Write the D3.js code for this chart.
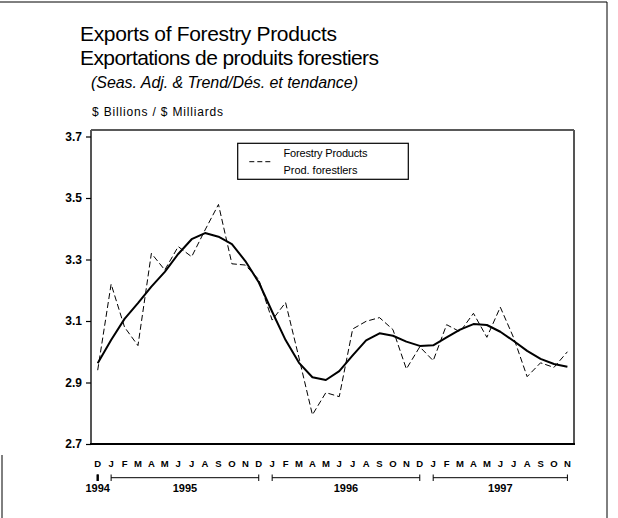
<!DOCTYPE html>
<html>
<head>
<meta charset="utf-8">
<script src="https://cdn.jsdelivr.net/npm/d3@7"></script>
<style>
html,body{margin:0;padding:0;background:#fff;}
svg{display:block;font-family:"Liberation Sans",Arial,sans-serif;}
</style>
</head>
<body>
<svg id="chart" width="618" height="518"></svg>
<script>
// ---- data ----
const monthLabels = ["D","J","F","M","A","M","J","J","A","S","O","N","D",
                     "J","F","M","A","M","J","J","A","S","O","N","D",
                     "J","F","M","A","M","J","J","A","S","O","N"];
const seasAdj = [2.94,3.22,3.08,3.02,3.32,3.266,3.342,3.309,3.396,3.479,3.286,3.282,
                 3.235,3.103,3.16,2.98,2.795,2.867,2.854,3.074,3.099,3.111,3.072,2.944,
                 3.016,2.971,3.088,3.065,3.125,3.047,3.145,3.045,2.919,2.964,2.949,3.0];
const trend = [2.963,3.038,3.107,3.158,3.212,3.26,3.318,3.366,3.386,3.374,3.35,3.295,
               3.226,3.13,3.038,2.964,2.917,2.908,2.937,2.988,3.037,3.06,3.052,3.033,
               3.019,3.021,3.047,3.072,3.09,3.087,3.065,3.035,3.003,2.977,2.96,2.951];
const yTicks = [2.7,2.9,3.1,3.3,3.5,3.7];
const yearLabels = ["1994","1995","1996","1997"];
const yearStart = [0,1,13,25];
const yearEnd = [0,12,24,35];
const titleLines = ["Exports of Forestry Products","Exportations de produits forestiers"];
const subtitle = "(Seas. Adj. & Trend/Dés. et tendance)";
const unitLabel = "$ Billions / $ Milliards";
const legendLines = ["Forestry Products","Prod. forestlers"];

// ---- layout ----
const svg = d3.select("#chart");
const plot = {left:91, right:574, top:130, bottom:444};
const x = d3.scaleLinear().domain([0, monthLabels.length-1]).range([97.7, 567.4]);
const y = d3.scaleLinear().domain([2.7, 3.7]).range([444, 136.5]);

// outer frame
svg.append("line").attr("x1",0).attr("x2",607).attr("y1",2).attr("y2",2).attr("stroke","#000").attr("stroke-width",1);
svg.append("line").attr("x1",607).attr("x2",607).attr("y1",2).attr("y2",518).attr("stroke","#000").attr("stroke-width",1);
svg.append("line").attr("x1",2).attr("x2",2).attr("y1",455).attr("y2",518).attr("stroke","#000").attr("stroke-width",1);

// titles
svg.append("text").attr("x",80).attr("y",41).attr("font-size",21)
  .attr("textLength",257).attr("lengthAdjust","spacing").text(titleLines[0]);
svg.append("text").attr("x",80).attr("y",64.5).attr("font-size",21)
  .attr("textLength",299).attr("lengthAdjust","spacing").text(titleLines[1]);
svg.append("text").attr("x",91).attr("y",87.5).attr("font-size",16).attr("font-style","italic")
  .attr("textLength",267).attr("lengthAdjust","spacing").text(subtitle);
svg.append("text").attr("x",92).attr("y",116).attr("font-size",12)
  .attr("textLength",131).attr("lengthAdjust","spacing").text(unitLabel);

// plot frame
svg.append("line").attr("x1",plot.left).attr("x2",plot.right).attr("y1",plot.top).attr("y2",plot.top).attr("stroke","#222").attr("stroke-width",1.5);
svg.append("line").attr("x1",plot.right).attr("x2",plot.right).attr("y1",plot.top).attr("y2",plot.bottom).attr("stroke","#555").attr("stroke-width",2);
svg.append("line").attr("x1",plot.left).attr("x2",plot.left).attr("y1",plot.top).attr("y2",plot.bottom).attr("stroke","#555").attr("stroke-width",2);

// y axis
const yAxis = d3.axisLeft(y).tickValues(yTicks).tickFormat(d3.format(".1f")).tickSize(5).tickPadding(4);
const gy = svg.append("g").attr("transform",`translate(${plot.left},0)`).call(yAxis);
gy.select(".domain").remove();
gy.selectAll(".tick line").attr("stroke","#000").attr("stroke-width",1.2);
gy.selectAll(".tick text").attr("font-size",12).attr("font-weight","bold").attr("fill","#000")
  .attr("font-family","'Liberation Sans',Arial,sans-serif");

// bottom axis line
svg.append("line").attr("x1",plot.left-1).attr("x2",plot.right+1).attr("y1",plot.bottom).attr("y2",plot.bottom).attr("stroke","#000").attr("stroke-width",2);

// month labels
svg.append("g").selectAll("text").data(monthLabels).join("text")
  .attr("x",(d,i)=>x(i)).attr("y",467).attr("text-anchor","middle")
  .attr("font-size",9.5).attr("font-weight","bold").text(d=>d);

// year brackets
const yb = svg.append("g");
yearLabels.forEach((lab,k)=>{
  const x0 = x(yearStart[k]), x1 = x(yearEnd[k]);
  if (yearStart[k] !== yearEnd[k]) {
    yb.append("line").attr("x1",x0).attr("x2",x1).attr("y1",477.7).attr("y2",477.7).attr("stroke","#000").attr("stroke-width",1);
  }
  yb.append("line").attr("x1",x0).attr("x2",x0).attr("y1",474.5).attr("y2",481).attr("stroke","#000").attr("stroke-width",yearStart[k]===yearEnd[k]?2:1);
  yb.append("line").attr("x1",x1).attr("x2",x1).attr("y1",474.5).attr("y2",481).attr("stroke","#000").attr("stroke-width",yearStart[k]===yearEnd[k]?2:1);
  yb.append("text").attr("x",(x0+x1)/2).attr("y",492).attr("text-anchor","middle")
    .attr("font-size",11).attr("font-weight","bold").text(lab);
});

// lines
const line = d3.line().x((d,i)=>x(i)).y(d=>y(d)).curve(d3.curveLinear);
svg.append("path").datum(seasAdj).attr("d",line).attr("fill","none")
  .attr("stroke","#000").attr("stroke-width",1).attr("stroke-dasharray","6,3");
svg.append("path").datum(trend).attr("d",line).attr("fill","none")
  .attr("stroke","#000").attr("stroke-width",2).attr("stroke-linejoin","round");

// legend
const lg = svg.append("g");
lg.append("rect").attr("x",237.7).attr("y",143.3).attr("width",170.6).attr("height",36)
  .attr("fill","#fff").attr("stroke","#000").attr("stroke-width",1.2);
lg.append("line").attr("x1",249.3).attr("x2",271.7).attr("y1",161.7).attr("y2",161.7)
  .attr("stroke","#000").attr("stroke-width",1).attr("stroke-dasharray","5,3");
lg.append("text").attr("x",283.5).attr("y",156.5).attr("font-size",11)
  .attr("textLength",84).attr("lengthAdjust","spacing").text(legendLines[0]);
lg.append("text").attr("x",283.5).attr("y",174).attr("font-size",11)
  .attr("textLength",74).attr("lengthAdjust","spacing").text(legendLines[1]);
</script>
</body>
</html>
